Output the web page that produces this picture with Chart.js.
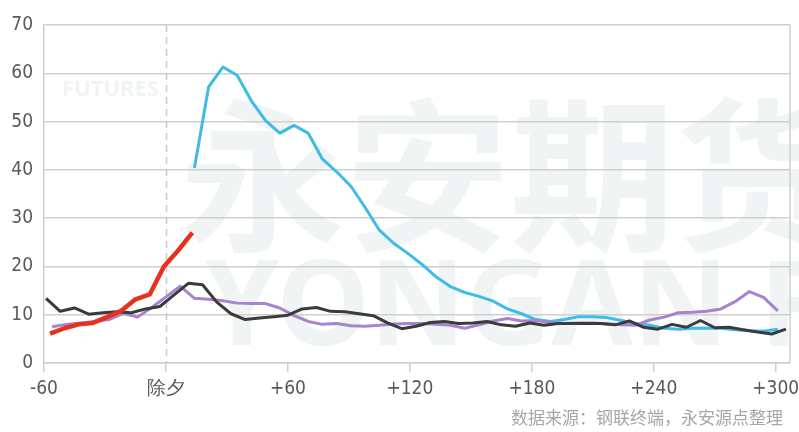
<!DOCTYPE html>
<html>
<head>
<meta charset="utf-8">
<script src="https://cdn.jsdelivr.net/npm/chart.js@4.4.1/dist/chart.umd.min.js"></script>
<style>
  html, body { margin: 0; padding: 0; background: #ffffff; }
  #wrap { width: 799px; height: 432px; position: relative; }
</style>
</head>
<body>
<div id="wrap"><canvas id="c" width="799" height="432"></canvas></div>
<script>
// Days relative to 除夕 (Chinese New Year's Eve), weekly observations
const redDays = [-57, -50, -43, -36, -29, -22, -15, -8, -1, 6, 13];
const redValues = [6.1, 7.2, 8.0, 8.3, 9.5, 10.8, 13.2, 14.2, 20.0, 23.3, 27.0];

const cyanDays = [14, 21, 28, 35, 42, 49, 56, 63, 70, 77, 84, 91, 98, 105, 112, 119, 126,
  133, 140, 147, 154, 161, 168, 175, 182, 189, 196, 203, 210, 217, 224, 231, 238, 245,
  252, 259, 266, 273, 280, 287, 294, 301];
const cyanValues = [40.4, 57.2, 61.3, 59.6, 54.3, 50.2, 47.6, 49.2, 47.6, 42.2, 39.6, 36.6,
  32.2, 27.5, 24.8, 22.7, 20.4, 17.8, 15.8, 14.6, 13.8, 12.8, 11.2, 10.2, 9.0, 8.6, 9.0,
  9.6, 9.6, 9.4, 8.8, 8.2, 7.8, 7.2, 7.0, 7.2, 7.2, 7.2, 6.9, 6.7, 6.6, 7.0];

const purpleDays = [-56, -49, -42, -35, -28, -21, -14, -7, 0, 7, 14, 21, 28, 35, 42, 49, 56,
  63, 70, 77, 84, 91, 98, 105, 112, 119, 126, 133, 140, 147, 154, 161, 168, 175, 182, 189,
  196, 203, 210, 217, 224, 231, 238, 245, 252, 259, 266, 273, 280, 287, 294, 301];
const purpleValues = [7.5, 8.0, 8.3, 8.6, 9.0, 10.3, 9.5, 11.5, 13.7, 15.9, 13.4, 13.2, 12.9,
  12.4, 12.3, 12.3, 11.4, 9.8, 8.6, 8.0, 8.2, 7.7, 7.6, 7.8, 8.1, 8.2, 8.2, 8.0, 7.8, 7.2,
  7.9, 8.7, 9.2, 8.7, 8.8, 8.4, 8.2, 8.3, 8.3, 8.1, 7.9, 7.8, 8.9, 9.5, 10.4, 10.5, 10.7,
  11.2, 12.7, 14.8, 13.6, 10.8];

const blackDays = [-59, -52, -45, -38, -31, -24, -17, -10, -3, 4, 11, 18, 25, 32, 39, 46, 53,
  60, 67, 74, 81, 88, 95, 102, 109, 116, 123, 130, 137, 144, 151, 158, 165, 172, 179, 186,
  193, 200, 207, 214, 221, 228, 235, 242, 249, 256, 263, 270, 277, 284, 291, 298, 305];
const blackValues = [13.4, 10.7, 11.4, 10.1, 10.4, 10.6, 10.4, 11.2, 11.7, 14.1, 16.5, 16.2,
  12.6, 10.2, 9.0, 9.3, 9.6, 9.9, 11.2, 11.5, 10.7, 10.6, 10.2, 9.8, 8.3, 7.1, 7.6, 8.4,
  8.6, 8.2, 8.3, 8.6, 7.9, 7.6, 8.3, 7.8, 8.2, 8.2, 8.2, 8.2, 7.9, 8.7, 7.4, 7.0, 8.0, 7.4,
  8.8, 7.3, 7.4, 6.9, 6.4, 6.0, 7.0];

const xTickValues = [-60, 0, 60, 120, 180, 240, 300];
const xTickNames = ['-60', '除夕', '+60', '+120', '+180', '+240', '+300'];
const sourceNote = '数据来源：钢联终端，永安源点整理';

const pts = (days, vals) => days.map((d, i) => ({ x: d, y: vals[i] }));

const GRID = '#cfcfcf';
const TICK_FONT = { family: '"Liberation Sans Narrow", "DejaVu Sans Condensed", "Noto Sans", sans-serif', size: 19 };

// Faint brand watermark behind the plot
const watermark = {
  id: 'watermark',
  beforeDraw(chart) {
    const ctx = chart.ctx;
    ctx.save();
    ctx.fillStyle = 'rgb(241,244,244)';
    ctx.textBaseline = 'alphabetic';
    ctx.font = 'bold 165px "Noto Sans CJK SC", sans-serif';
    ctx.fillText('永安期货', 180, 238);
    ctx.font = 'bold 118px "Liberation Sans Narrow", "Noto Sans", sans-serif';
    ctx.fillText('YONGAN FUTURES', 205, 345);
    ctx.font = 'bold 22px "Noto Sans", sans-serif';
    ctx.fillText('FUTURES', 62, 96);
    ctx.restore();
  }
};

// Dashed marker at 除夕, right frame line and source note
const decorations = {
  id: 'decorations',
  beforeDatasetsDraw(chart) {
    const { ctx, chartArea, scales } = chart;
    const x0 = Math.round(scales.x.getPixelForValue(0)) + 0.5;
    ctx.save();
    ctx.strokeStyle = '#c8c8c8';
    ctx.lineWidth = 1.5;
    ctx.setLineDash([7, 5]);
    ctx.beginPath();
    ctx.moveTo(x0, chartArea.top);
    ctx.lineTo(x0, chartArea.bottom);
    ctx.stroke();
    ctx.setLineDash([]);
    ctx.strokeStyle = GRID;
    ctx.beginPath();
    ctx.moveTo(chartArea.right, chartArea.top);
    ctx.lineTo(chartArea.right, chartArea.bottom);
    ctx.stroke();
    ctx.restore();
  },
  afterDraw(chart) {
    const ctx = chart.ctx;
    ctx.save();
    ctx.fillStyle = '#a6a6a6';
    ctx.font = '17px "Noto Sans CJK SC", sans-serif';
    ctx.textAlign = 'right';
    ctx.textBaseline = 'alphabetic';
    ctx.fillText(sourceNote, 783, 424);
    ctx.restore();
  }
};

new Chart(document.getElementById('c'), {
  type: 'line',
  data: {
    datasets: [
      { label: 'red', data: pts(redDays, redValues), borderColor: '#e4321e', borderWidth: 4.5 },
      { label: 'black', data: pts(blackDays, blackValues), borderColor: '#3b3b3b', borderWidth: 3 },
      { label: 'purple', data: pts(purpleDays, purpleValues), borderColor: '#a783cf', borderWidth: 3 },
      { label: 'cyan', data: pts(cyanDays, cyanValues), borderColor: '#3dbde6', borderWidth: 3 }
    ]
  },
  options: {
    responsive: false,
    animation: false,
    elements: { point: { radius: 0 }, line: { tension: 0, borderJoinStyle: 'round', borderCapStyle: 'butt' } },
    layout: { padding: { top: 25, right: 9, bottom: 29, left: 0 } },
    plugins: { legend: { display: false }, tooltip: { enabled: false } },
    scales: {
      x: {
        type: 'linear',
        min: -60,
        max: 307,
        afterBuildTicks(scale) { scale.ticks = xTickValues.map(v => ({ value: v })); },
        afterFit(scale) { scale.height = 40; scale.paddingLeft = 0; scale.paddingRight = 0; },
        ticks: {
          font: TICK_FONT,
          color: '#595959',
          padding: 6,
          maxRotation: 0,
          autoSkip: false,
          callback(v) { const i = xTickValues.indexOf(v); return i >= 0 ? xTickNames[i] : ''; }
        },
        grid: { drawOnChartArea: false, drawTicks: true, tickLength: 9, color: GRID, lineWidth: 1.5 },
        border: { display: true, color: GRID, width: 1.5 }
      },
      y: {
        min: 0,
        max: 70,
        afterFit(scale) { scale.width = 44; },
        ticks: { stepSize: 10, font: TICK_FONT, color: '#595959', padding: 11 },
        grid: { color: GRID, lineWidth: 1.5, drawTicks: false },
        border: { display: true, color: GRID, width: 1.5 }
      }
    }
  },
  plugins: [watermark, decorations]
});
</script>
</body>
</html>
